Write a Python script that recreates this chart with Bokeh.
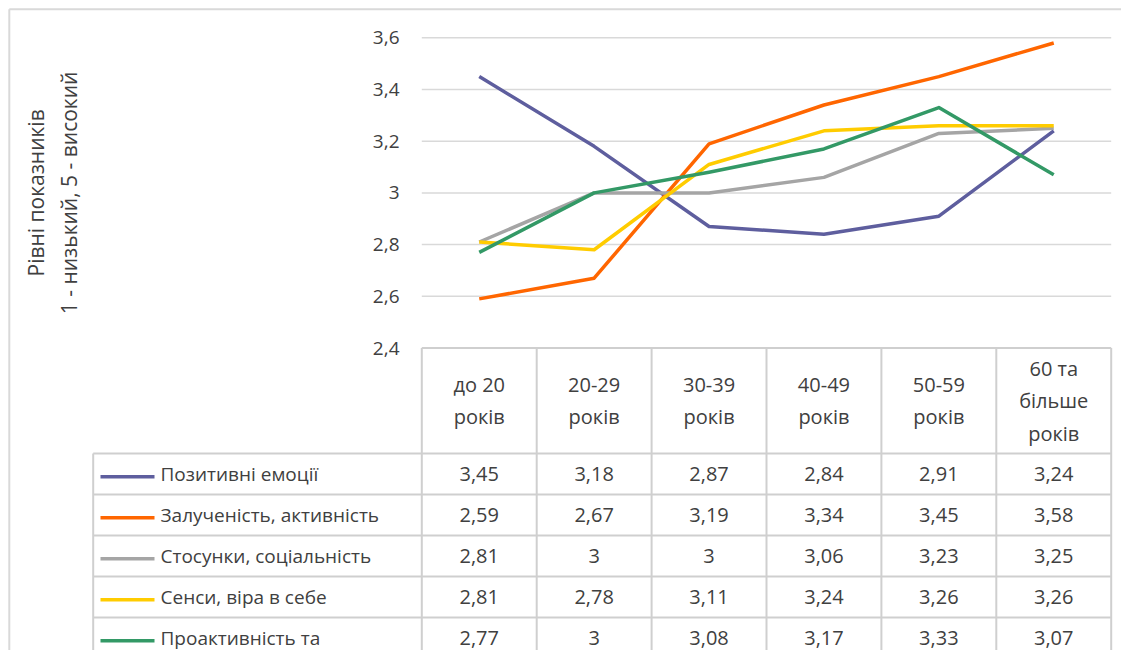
import math
from bokeh.plotting import figure
from bokeh.models import Range1d
from bokeh.core.properties import value
from bokeh.embed import file_html
from bokeh.resources import INLINE

# ---------------- data ----------------
categories = ["до 20\nроків", "20-29\nроків", "30-39\nроків", "40-49\nроків",
              "50-59\nроків", "60 та\nбільше\nроків"]
series_names = ["Позитивні емоції", "Залученість, активність",
                "Стосунки, соціальність", "Сенси, віра в себе", "Проактивність та"]
positive_emotions = [3.45, 3.18, 2.87, 2.84, 2.91, 3.24]
engagement = [2.59, 2.67, 3.19, 3.34, 3.45, 3.58]
relations = [2.81, 3.00, 3.00, 3.06, 3.23, 3.25]
meaning = [2.81, 2.78, 3.11, 3.24, 3.26, 3.26]
proactivity = [2.77, 3.00, 3.08, 3.17, 3.33, 3.07]
y_ticks = [2.4, 2.6, 2.8, 3.0, 3.2, 3.4, 3.6]
y_tick_labels = ["2,4", "2,6", "2,8", "3", "3,2", "3,4", "3,6"]
axis_title_lines = ["Рівні показників", "1 - низький, 5 - високий"]

series_values = [positive_emotions, engagement, relations, meaning, proactivity]
colors = ["#5E5E9E", "#FF6600", "#A5A5A5", "#FFCC00", "#339966"]

# ---------------- layout constants (picture pixels) ----------------
FONT = "Open Sans"
TXT = "#404040"
GRID = "#D9D9D9"
TBL = "#CFCFCF"
W, H = 1121, 650
BORDER_XY = 8.8
FRAME_L, FRAME_R, FRAME_T = 421.3, 1110.7, 37.3
TABLE_T = 347.5
HDR_B = 453
ROW_H = 41
LEG_L = 92.7
TICK_R = 399
TITLE_X = [35, 68]

n = len(categories)
n_rows = len(series_names)
col_w = (FRAME_R - FRAME_L) / n
v_lo, v_hi = y_ticks[0], y_ticks[-1]
px_per_v = (TABLE_T - FRAME_T) / (v_hi - v_lo)


def px_x(px):
    return (px - FRAME_L) / col_w


def px_v(py):
    return v_lo + (TABLE_T - py) / px_per_v


def px_r(py):
    return (py - HDR_B) / ROW_H


p = figure(width=W, height=H, output_backend="svg", toolbar_location=None,
           x_range=Range1d(px_x(0), px_x(W)),
           y_range=Range1d(px_v(H), px_v(0)),
           x_axis_location=None, y_axis_location=None, min_border=0)
p.extra_y_ranges = {"table": Range1d(px_r(H), px_r(0))}
p.outline_line_color = None
p.grid.visible = False

# outer chart border (top and left)
p.segment(x0=[px_x(BORDER_XY)], x1=[px_x(BORDER_XY)], y0=[px_v(BORDER_XY)], y1=[px_v(H)],
          line_color=GRID, line_width=2)
p.segment(x0=[px_x(BORDER_XY)], x1=[px_x(W)], y0=[px_v(BORDER_XY)], y1=[px_v(BORDER_XY)],
          line_color=GRID, line_width=2)

# horizontal gridlines of the value axis
gt = y_ticks[1:]
p.segment(x0=[0] * len(gt), x1=[n] * len(gt), y0=gt, y1=gt,
          line_color=GRID, line_width=1.5)

# y tick labels
p.text(x=[px_x(TICK_R)] * len(y_ticks), y=y_ticks, text=y_tick_labels,
       text_align="right", text_baseline="middle", text_font=value(FONT),
       text_font_size="19px", text_color=TXT)

# axis title (two lines, rotated)
p.text(x=[px_x(t) for t in TITLE_X], y=[(v_lo + v_hi) / 2] * 2, text=axis_title_lines,
       angle=math.pi / 2, text_align="center", text_baseline="middle",
       text_font=value(FONT), text_font_size="21px", text_color=TXT)

# series lines
xs = [i + 0.5 for i in range(n)]
for vals, c in zip(series_values, colors):
    p.line(xs, vals, line_color=c, line_width=3.5, line_join="round")

# ---------------- data table ----------------
hdr_h = (HDR_B - TABLE_T) / ROW_H
x_leg = px_x(LEG_L)
r_end = n_rows + 1
vx = list(range(n + 1))
p.segment(x0=vx, x1=vx, y0=[-hdr_h] * len(vx), y1=[r_end] * len(vx),
          line_color=TBL, line_width=2, y_range_name="table")
p.segment(x0=[x_leg], x1=[x_leg], y0=[0], y1=[r_end], line_color=TBL, line_width=2,
          y_range_name="table")
p.segment(x0=[0], x1=[n], y0=[-hdr_h], y1=[-hdr_h], line_color=TBL, line_width=2,
          y_range_name="table")
hy = list(range(n_rows + 1))
p.segment(x0=[x_leg] * len(hy), x1=[n] * len(hy), y0=hy, y1=hy, line_color=TBL,
          line_width=2, y_range_name="table")

# header
p.text(x=xs, y=[-hdr_h / 2] * n, text=categories, text_align="center",
       text_baseline="middle", text_font=value(FONT), text_font_size="20px",
       text_color=TXT, text_line_height=1.2, y_range_name="table")

# legend keys and names
ry = [r + 0.5 for r in range(n_rows)]
lx0, lx1, ltx = px_x(100), px_x(154), px_x(160)
p.segment(x0=[lx0] * n_rows, x1=[lx1] * n_rows, y0=[y + 0.07 for y in ry],
          y1=[y + 0.07 for y in ry], line_color=colors, line_width=3.5,
          y_range_name="table")
p.text(x=[ltx] * n_rows, y=ry, text=series_names, text_align="left",
       text_baseline="middle", text_font=value(FONT), text_font_size="19px",
       text_color=TXT, y_range_name="table")

# values
cx, cy, ct = [], [], []
for r, vals in enumerate(series_values):
    for i, v in enumerate(vals):
        cx.append(i + 0.5)
        cy.append(r + 0.5)
        ct.append(f"{v:g}".replace(".", ","))
p.text(x=cx, y=cy, text=ct, text_align="center", text_baseline="middle",
       text_font=value(FONT), text_font_size="20px", text_color=TXT,
       y_range_name="table")

open("out.html", "w").write(file_html(p, INLINE))
